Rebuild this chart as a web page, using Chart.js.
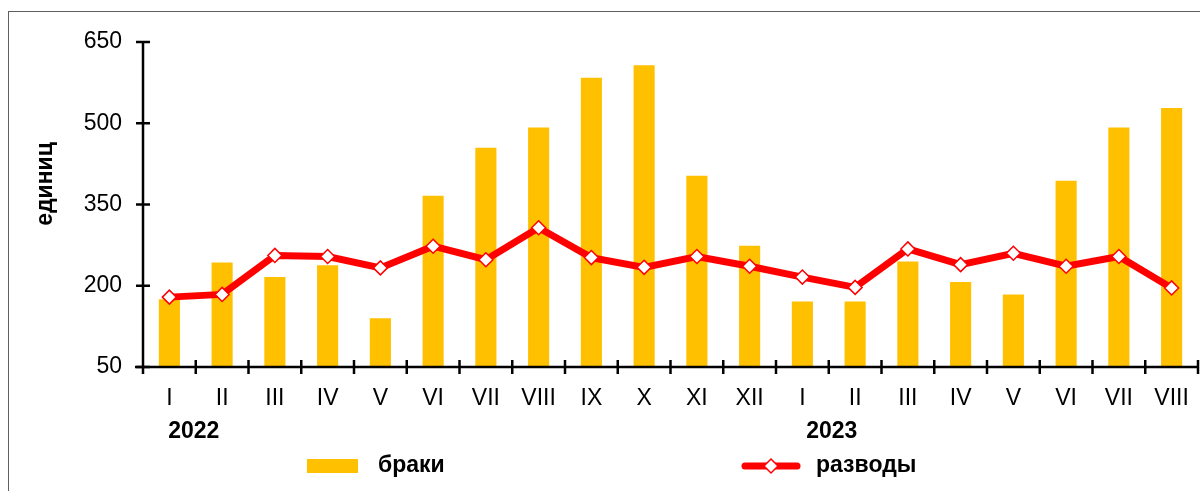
<!DOCTYPE html>
<html>
<head>
<meta charset="utf-8">
<script src="https://cdn.jsdelivr.net/npm/chart.js@4.4.1/dist/chart.umd.min.js"></script>
<style>
  html, body { margin: 0; padding: 0; background: #fff; }
  #wrap { position: relative; width: 1200px; height: 491px; overflow: hidden; }
  canvas { display: block; }
</style>
</head>
<body>
<div id="wrap"><canvas id="c" width="1200" height="491"></canvas></div>
<script>
const categories = ['I','II','III','IV','V','VI','VII','VIII','IX','X','XI','XII','I','II','III','IV','V','VI','VII','VIII'];
const yearLabels = ['2022', '2023'];
const yearStartIndex = [0, 12];
const marriages = [175,243,216,238,140,366,455,492,584,607,403,274,171,171,245,207,184,394,492,528];
const divorces  = [179,184,256,254,233,273,248,307,252,234,254,236,216,197,268,239,260,236,254,196];
const yTicks = [50, 200, 350, 500, 650];
const seriesNames = ['браки', 'разводы'];
const yTitle = 'единиц';

const FONT = "'Liberation Sans', Arial, sans-serif";
const BAR_COLOR = '#FFC000';
const LINE_COLOR = '#FF0000';

const decorPlugin = {
  id: 'decor',
  beforeDraw(chart) {
    const ctx = chart.ctx;
    ctx.save();
    ctx.strokeStyle = '#606060';
    ctx.lineWidth = 1;
    ctx.strokeRect(8.5, 11.5, 1400, 700);
    ctx.restore();
  },
  afterDatasetsDraw(chart) {
    const ctx = chart.ctx;
    const xs = chart.scales.x, ys = chart.scales.y;
    const ca = chart.chartArea;
    ctx.save();
    ctx.strokeStyle = '#000';
    ctx.lineWidth = 2.5;
    ctx.lineCap = 'butt';
    const ax = ca.left;
    const yTop = ys.getPixelForValue(yTicks[yTicks.length - 1]);
    const yBot = ys.getPixelForValue(yTicks[0]);
    ctx.beginPath();
    ctx.moveTo(ax, yTop - 1); ctx.lineTo(ax, yBot + 7);
    ctx.stroke();
    yTicks.forEach(v => {
      const py = ys.getPixelForValue(v);
      ctx.beginPath();
      ctx.moveTo(ax - 7, py); ctx.lineTo(ax + 7, py);
      ctx.stroke();
    });
    const n = categories.length;
    const half = (xs.getPixelForValue(1) - xs.getPixelForValue(0)) / 2;
    const xLeft = xs.getPixelForValue(0) - half;
    const xRight = xs.getPixelForValue(n - 1) + half;
    ctx.beginPath();
    ctx.moveTo(xLeft - 8, yBot); ctx.lineTo(xRight + 1, yBot);
    ctx.stroke();
    for (let i = 1; i <= n; i++) {
      const px = xs.getPixelForValue(i - 1) + half;
      ctx.beginPath();
      ctx.moveTo(px, yBot - 7); ctx.lineTo(px, yBot + 7);
      ctx.stroke();
    }
    ctx.restore();
  },
  afterDraw(chart) {
    const ctx = chart.ctx;
    const xs = chart.scales.x;
    ctx.save();
    ctx.fillStyle = '#000';
    ctx.font = 'bold 23px ' + FONT;
    ctx.textAlign = 'center';
    ctx.textBaseline = 'middle';
    yearLabels.forEach((t, k) => {
      const i = yearStartIndex[k];
      const px = (xs.getPixelForValue(i) + xs.getPixelForValue(i + 1)) / 2;
      ctx.fillText(t, px + (k === 0 ? -2 : 3), 432);
    });
    ctx.save();
    ctx.translate(46, 184);
    ctx.rotate(-Math.PI / 2);
    ctx.fillText(yTitle, 0, 0);
    ctx.restore();
    const ly = 466;
    ctx.fillStyle = BAR_COLOR;
    ctx.fillRect(307, ly - 7, 51, 14);
    ctx.fillStyle = '#000';
    ctx.textAlign = 'left';
    ctx.fillText(seriesNames[0], 378, ly);
    ctx.strokeStyle = LINE_COLOR;
    ctx.lineWidth = 7;
    ctx.lineCap = 'round';
    ctx.beginPath();
    ctx.moveTo(745, ly); ctx.lineTo(797, ly);
    ctx.stroke();
    ctx.fillStyle = '#fff';
    ctx.lineWidth = 1.5;
    ctx.beginPath();
    ctx.moveTo(771, ly - 7); ctx.lineTo(778, ly); ctx.lineTo(771, ly + 7); ctx.lineTo(764, ly);
    ctx.closePath();
    ctx.fill(); ctx.stroke();
    ctx.fillStyle = '#000';
    ctx.fillText(seriesNames[1], 816, ly);
    ctx.restore();
  }
};

new Chart(document.getElementById('c'), {
  type: 'bar',
  data: {
    labels: categories,
    datasets: [
      {
        type: 'line',
        label: seriesNames[1],
        data: divorces,
        borderColor: LINE_COLOR,
        borderWidth: 7,
        pointStyle: 'rectRot',
        pointRadius: 7,
        pointBorderWidth: 1.5,
        pointBackgroundColor: '#fff',
        pointBorderColor: LINE_COLOR,
        tension: 0,
        order: 0
      },
      {
        type: 'bar',
        label: seriesNames[0],
        data: marriages,
        backgroundColor: BAR_COLOR,
        borderWidth: 0,
        categoryPercentage: 1,
        barPercentage: 0.4,
        order: 1
      }
    ]
  },
  options: {
    responsive: false,
    animation: false,
    layout: { autoPadding: false, padding: { left: 0, top: 42, right: 2, bottom: 0 } },
    plugins: { legend: { display: false }, tooltip: { enabled: false } },
    scales: {
      x: {
        offset: true,
        grid: { display: false, drawTicks: false },
        border: { display: false },
        ticks: { color: '#000', font: { family: FONT, size: 23, lineHeight: 2.75 }, padding: 0, maxRotation: 0, autoSkip: false },
        afterFit(s) { s.height = 124; s.paddingLeft = 0; s.paddingRight = 0; }
      },
      y: {
        min: 50, max: 650,
        afterBuildTicks(s) { s.ticks = yTicks.map(v => ({ value: v })); },
        grid: { display: false, drawTicks: false },
        border: { display: false },
        ticks: { color: '#000', font: { family: FONT, size: 23 }, padding: 21 },
        afterFit(s) { s.width = 143; s.paddingTop = 0; s.paddingBottom = 0; }
      }
    }
  },
  plugins: [decorPlugin]
});
</script>
</body>
</html>
